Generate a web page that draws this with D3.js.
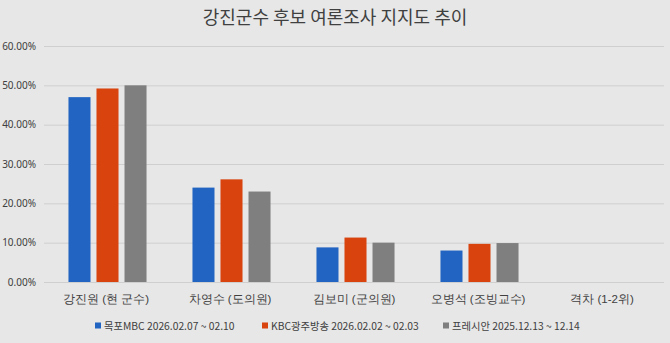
<!DOCTYPE html>
<html>
<head>
<meta charset="utf-8">
<script src="https://cdn.jsdelivr.net/npm/d3@7"></script>
<style>
  html, body { margin: 0; padding: 0; background: #e7e7e7; }
  svg { display: block; font-family: "Noto Sans CJK KR", "Noto Sans", sans-serif; }
</style>
</head>
<body>
<svg id="chart" width="670" height="343"></svg>
<script>
// Candidate categories
const categories = ["강진원 (현 군수)", "차영수 (도의원)", "김보미 (군의원)", "오병석 (조빙교수)", "격차 (1-2위)"];

// Poll series (percent)
const seriesNames = ["목포MBC 2026.02.07 ~ 02.10", "KBC광주방송 2026.02.02 ~ 02.03", "프레시안 2025.12.13 ~ 12.14"];
const mbcValues = [47.0, 24.0, 8.8, 8.0, null];
const kbcValues = [49.2, 26.1, 11.3, 9.7, null];
const pressianValues = [50.0, 23.0, 10.0, 9.9, null];

const yTicks = [0, 10, 20, 30, 40, 50, 60];
const titleText = "강진군수 후보 여론조사 지지도 추이";

const colors = ["#2164c1", "#d8430e", "#7f7f7f"];
const allSeries = [mbcValues, kbcValues, pressianValues];

const svg = d3.select("#chart");
const W = 670, H = 343;
const margin = { top: 46, right: 6, bottom: 61, left: 44 };

svg.append("rect").attr("width", W).attr("height", H).attr("fill", "#e7e7e7");

const x = d3.scaleBand().domain(categories).range([margin.left, W - margin.right]).paddingInner(0).paddingOuter(0);
const xInner = d3.scaleBand().domain(d3.range(allSeries.length)).range([1.5, x.bandwidth() + 1.5]).paddingInner(0.214).paddingOuter(0.82);
const y = d3.scaleLinear().domain([0, 60]).range([H - margin.bottom, margin.top]);

// Title
svg.append("text")
  .attr("x", W / 2).attr("y", 24)
  .attr("text-anchor", "middle")
  .attr("font-size", 18)
  .attr("fill", "#404040")
  .text(titleText);

// Gridlines + y labels
const yAxis = d3.axisLeft(y).tickValues(yTicks).tickSize(-(W - margin.left - margin.right)).tickPadding(8)
  .tickFormat(d => d.toFixed(2) + "%");
const gy = svg.append("g").attr("transform", `translate(${margin.left},0)`).call(yAxis);
gy.select(".domain").remove();
gy.selectAll(".tick line").attr("stroke", "#cfcfcf").attr("stroke-width", 1);
gy.selectAll(".tick text").attr("font-size", 10).attr("fill", "#404040").attr("font-family", "'Noto Sans', 'Noto Sans CJK KR', sans-serif");

// Bars
const groups = svg.append("g").selectAll("g")
  .data(categories)
  .join("g")
  .attr("transform", d => `translate(${x(d)},0)`);

groups.selectAll("rect")
  .data((d, i) => allSeries.map((s, k) => ({ k, v: s[i] })).filter(e => e.v != null))
  .join("rect")
  .attr("x", e => xInner(e.k))
  .attr("width", xInner.bandwidth())
  .attr("y", e => y(e.v))
  .attr("height", e => y(0) - y(e.v))
  .attr("fill", e => colors[e.k]);

// Category labels
const xAxis = d3.axisBottom(x).tickSize(0).tickPadding(13);
const gx = svg.append("g").attr("transform", `translate(0,${y(0)})`).call(xAxis);
gx.select(".domain").remove();
gx.selectAll(".tick text").attr("font-size", 11.5).attr("fill", "#404040");

// Legend
const legendX = [95, 262, 443];
const legend = svg.append("g").selectAll("g")
  .data(seriesNames)
  .join("g")
  .attr("transform", (d, i) => `translate(${legendX[i]},326)`);
legend.append("rect").attr("x", 0).attr("y", -3.5).attr("width", 6).attr("height", 6).attr("fill", (d, i) => colors[i]);
legend.append("text")
  .attr("x", 9).attr("y", 4)
  .attr("font-size", 10.3)
  .attr("fill", "#404040")
  .text(d => d);
</script>
</body>
</html>
